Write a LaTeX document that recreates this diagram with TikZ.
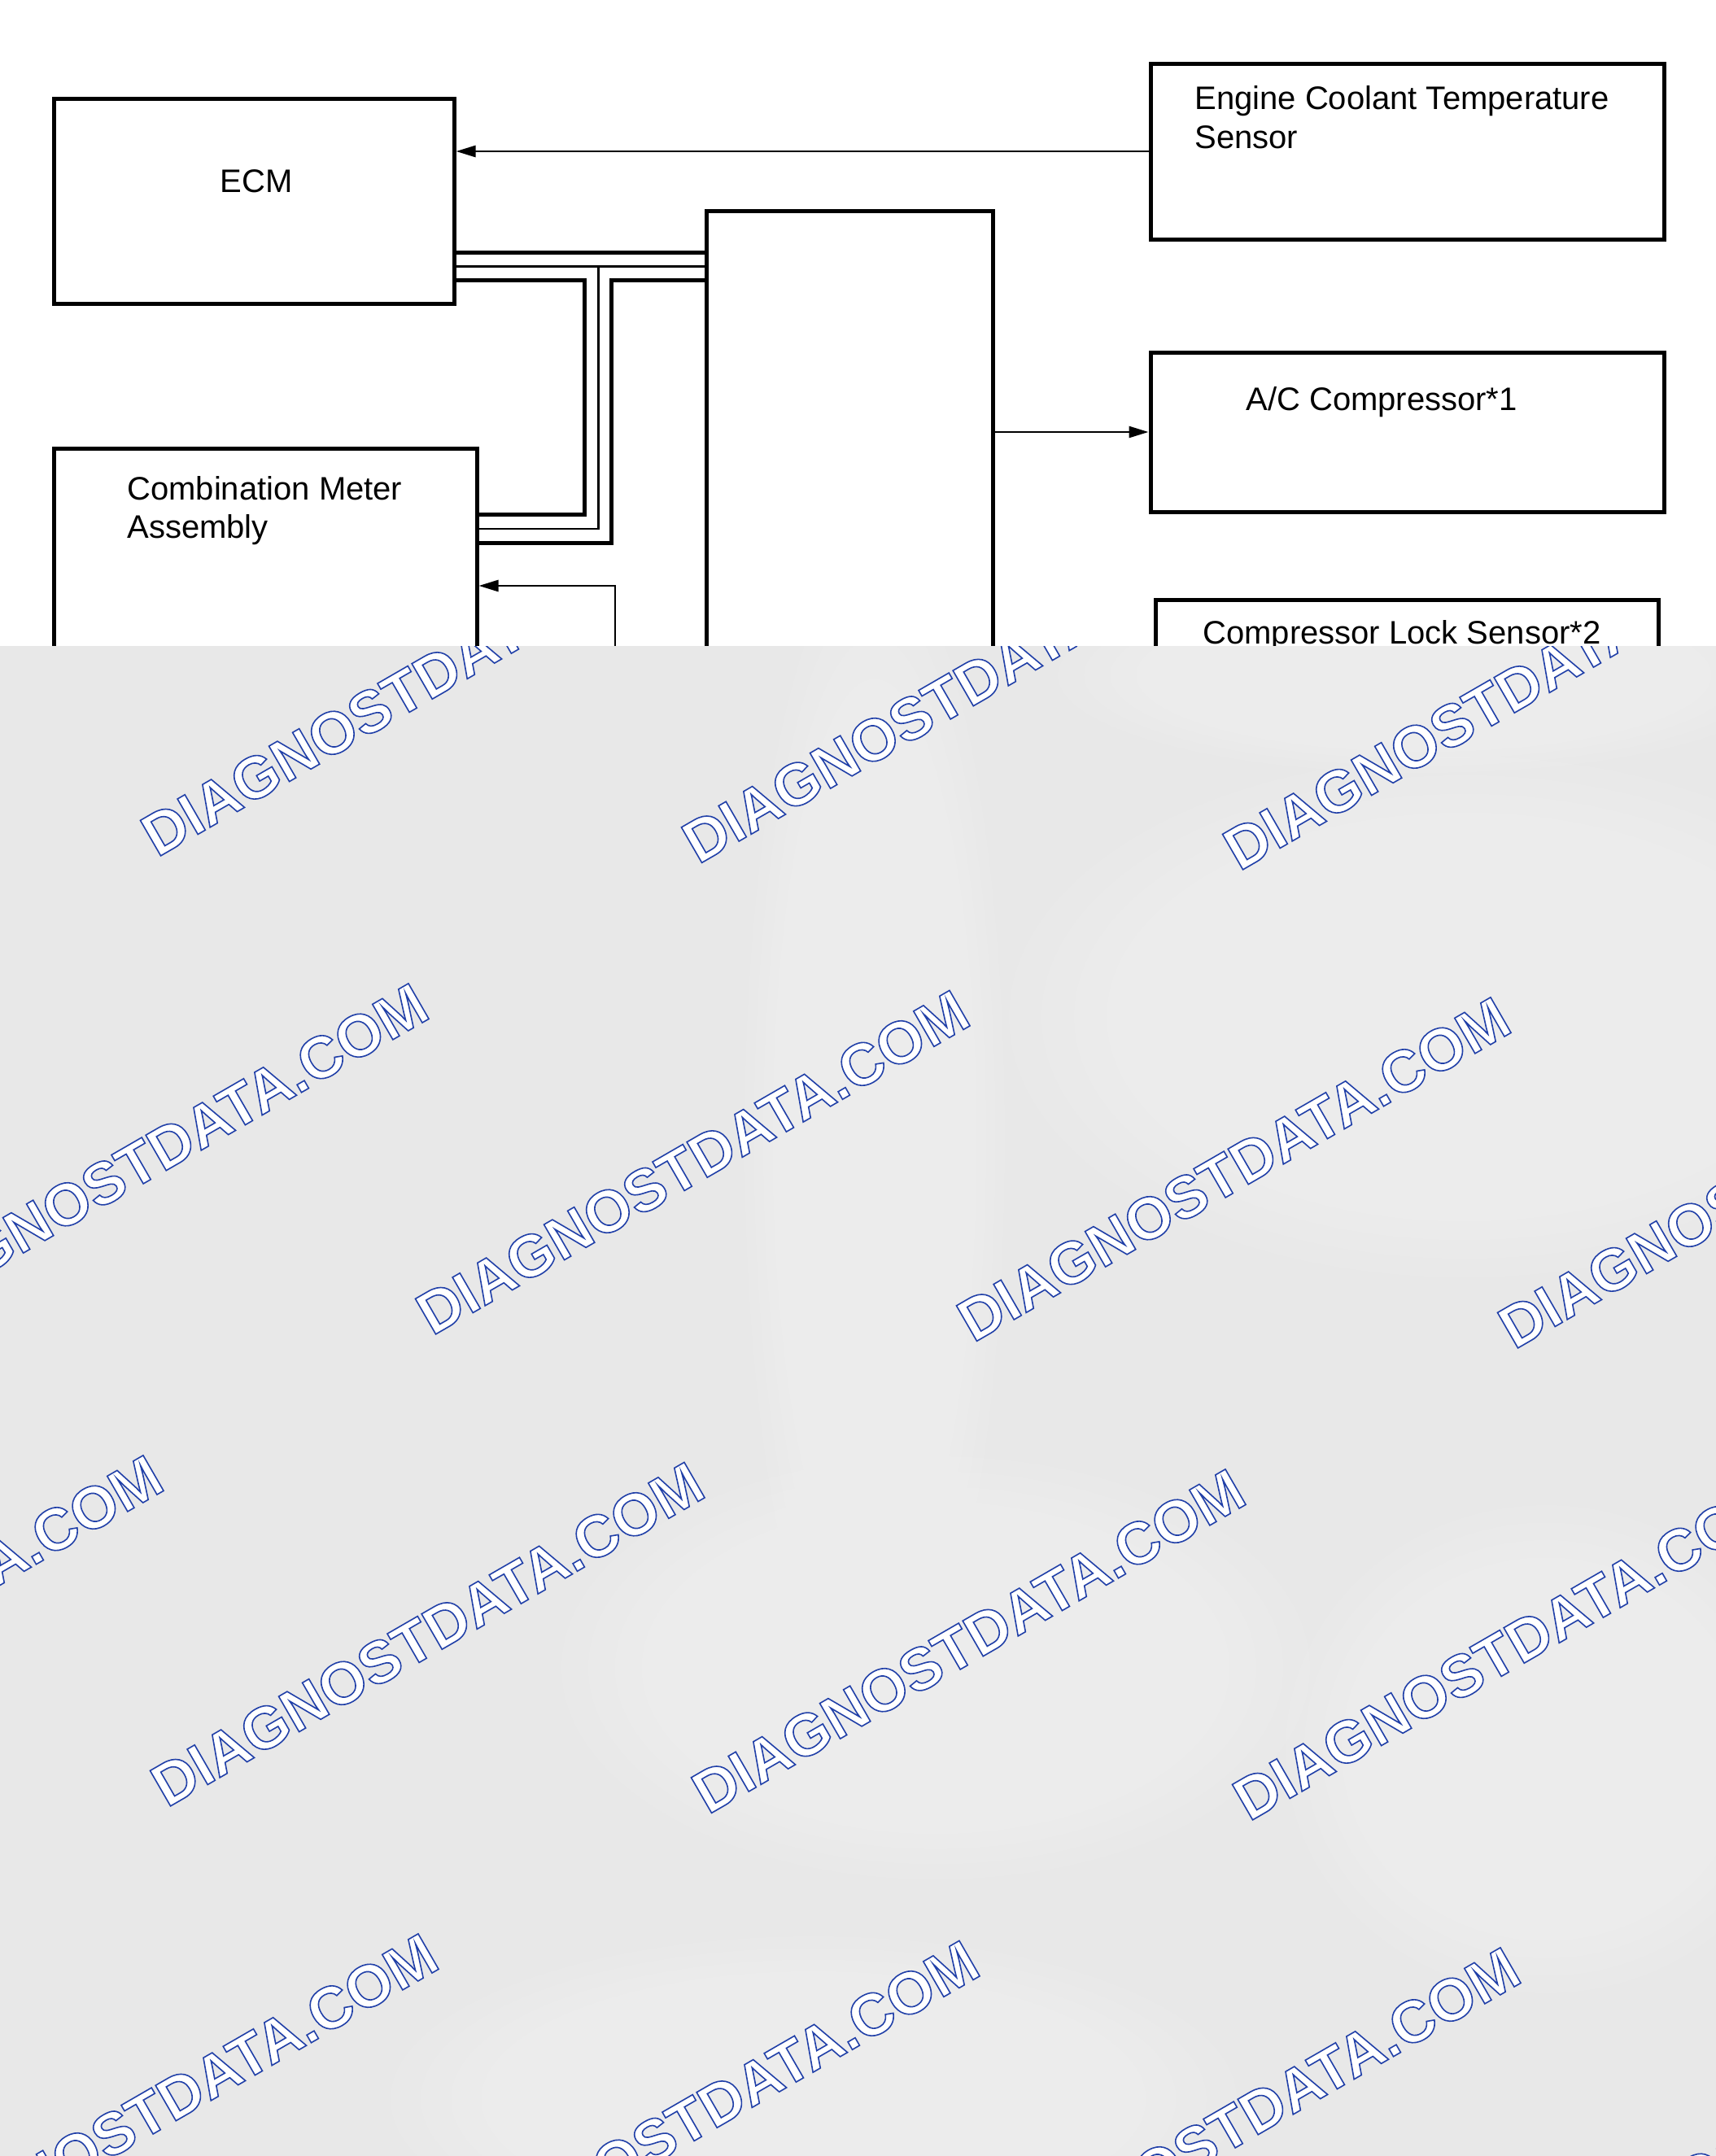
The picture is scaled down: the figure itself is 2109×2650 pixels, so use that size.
\documentclass[tikz,border=0pt]{standalone}
\usepackage{fontspec}
\setmainfont{Liberation Sans}
\usetikzlibrary{arrows.meta,calc}
\definecolor{overlaygray}{RGB}{232,232,232}
\newcommand{\outlinetext}[1]{\special{pdf:literal direct 2 Tr 0.8 w 0.13 0.25 0.66 RG}#1\special{pdf:literal direct 0 Tr}}
\newcommand{\softpatch}[4]{%
  \foreach \s in {1,...,14}{\fill[white,opacity=0.05] (#1,#2) ellipse [x radius={#3*\s/14}, y radius={#4*\s/14}];}}
\begin{document}
\begin{tikzpicture}[x=0.5pt,y=-0.5pt,
  box/.style={draw, line width=2.5pt, rectangle, inner sep=0pt, fill=white},
  lbl/.style={inner sep=0pt, font=\fontsize{20pt}{24pt}\selectfont, anchor=base west},
  thickbus/.style={line width=2.5pt},
  thinwire/.style={line width=1.3pt},
  sig/.style={line width=1.3pt, -{Triangle[length=12pt,width=7pt]}},
  wm/.style={inner sep=0pt, anchor=base west, rotate=30, text=white,
    font=\fontsize{36.5pt}{36.5pt}\selectfont\bfseries}
]
\useasboundingbox (0,0) rectangle (2109,2650);
\fill[white] (0,0) rectangle (2109,2650);

% boxes
\node[box, minimum width=246pt, minimum height=126pt] (ecm) at (312,247) {};
\node[box, minimum width=315.5pt, minimum height=108pt] (ect) at (1729.5,186) {};
\node[box, minimum width=315.5pt, minimum height=98pt] (ac) at (1729.5,531) {};
\node[box, minimum width=309pt, minimum height=131.5pt] (cls) at (1729,868.5) {};
\node[box, minimum width=260pt, minimum height=274.5pt] (cma) at (326,825.5) {};
\node[box, minimum width=176pt, minimum height=420.5pt] (ctr) at (1044,679.5) {};

% labels
\node[lbl, anchor=base] (ecmlbl) at (315,236) {ECM};
\node[lbl] (ectlbl1) at (1468,134) {Engine Coolant Temperature};
\node[lbl] (ectlbl2) at (1468,182) {Sensor};
\node[lbl] (aclbl) at (1531,504) {A/C Compressor*1};
\node[lbl] (clslbl) at (1478,791) {Compressor Lock Sensor*2};
\node[lbl] (cmalbl1) at (156,614) {Combination Meter};
\node[lbl] (cmalbl2) at (156,661) {Assembly};

% signal arrows
\draw[sig] (ect.west) -- (ect.west -| ecm.east);
\draw[sig] (ac.west -| ctr.east) -- (ac.west);

% bus between ECM, centre unit and combination meter
\coordinate (tee) at (735.5,327.5);
\coordinate (cturn) at (718.5,344.5);
\coordinate (dturn) at (751.5,344.5);
\draw[thickbus] (ecm.east |- 0,310) -- (ctr.west |- 0,310);
\draw[thinwire] (ecm.east |- 0,327.5) -- (ctr.west |- 0,327.5);
\draw[thinwire] (tee) |- (cma.east |- 0,650);
\draw[thickbus] (ecm.east |- 0,344.5) -- (cturn) |- (cma.east |- 0,632.5);
\draw[thickbus] (ctr.west |- 0,344.5) -- (dturn) |- (cma.east |- 0,667);

% signal into combination meter
\coordinate (cmasrc) at (756,900);
\draw[sig] (cmasrc) |- (cma.east |- 0,720);

% grey overlay
\fill[overlaygray] (0,794) rectangle (2109,2650);
\begin{scope}
\clip (0,794) rectangle (2109,2650);
\softpatch{1075}{1400}{160}{720}
\softpatch{1800}{1250}{560}{320}
\softpatch{1150}{2050}{460}{260}
\softpatch{1900}{2150}{320}{300}
\softpatch{1000}{2580}{520}{200}
\softpatch{1750}{830}{450}{120}
\foreach \wx/\wy [count=\i] in {193/1054.5, 858/1063, 1523/1071.5,
  -134/1634, 531/1642.5, 1196/1651, 1861/1659.5,
  -460/2214, 205/2222.5, 870/2231, 1535/2239.5,
  -122/2802, 543/2810.5, 1208/2819, 1873/2827.5}
  \node[wm] (wm\i) at (\wx,\wy) {\outlinetext{DIAGNOSTDATA.COM}};
\end{scope}
\end{tikzpicture}
\end{document}
